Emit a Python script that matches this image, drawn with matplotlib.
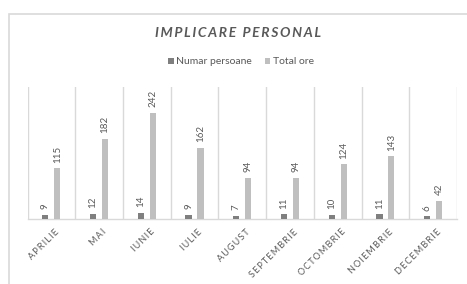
import matplotlib
matplotlib.use("Agg")
import matplotlib.pyplot as plt
from matplotlib.patches import Rectangle
import matplotlib.transforms as mtransforms
import numpy as np

months = ["APRILIE", "MAI", "IUNIE", "IULIE", "AUGUST", "SEPTEMBRIE",
          "OCTOMBRIE", "NOIEMBRIE", "DECEMBRIE"]
numar_persoane = [9, 12, 14, 9, 7, 11, 10, 11, 6]
total_ore = [115, 182, 242, 162, 94, 94, 124, 143, 42]
series_names = ["Numar persoane", "Total ore"]
title = "IMPLICARE PERSONAL"

FAM = ["Lato", "DejaVu Sans"]
TXT = "#595959"
DARK = "#7f7f7f"
LIGHT = "#bfbfbf"
GRID = "#d9d9d9"

def spaced(s, sep="\u200a"):
    return sep.join(s)

W, H = 467, 284
fig = plt.figure(figsize=(W / 100, H / 100), dpi=100)
fig.patch.set_facecolor("white")

# chart frame (extends beyond the image on right/bottom)
fig.patches.append(Rectangle((8.5 / W, -0.1), 1.2, 1.1 - 13.5 / H,
                             transform=fig.transFigure, fill=False,
                             edgecolor=GRID, linewidth=1.2))

left, right, bottom, top = 27.5, 457, 219, 87
ax = fig.add_axes([left / W, (H - bottom) / H, (right - left) / W, (bottom - top) / H])
ax.set_facecolor("none")

x = np.arange(len(months))
bw = 0.13
off = 0.125
b1 = ax.bar(x - off, numar_persoane, bw, color=DARK, label=series_names[0], zorder=3)
b2 = ax.bar(x + off, total_ore, bw, color=LIGHT, label=series_names[1], zorder=3)

for bars, vals in ((b1, numar_persoane), (b2, total_ore)):
    for r, v in zip(bars, vals):
        ax.annotate(str(v), (r.get_x() + r.get_width() / 2, r.get_height()),
                    xytext=(0, 4), textcoords="offset points", rotation=90,
                    ha="center", va="bottom", fontsize=7, color=TXT, family=FAM)

ax.set_xlim(-0.5, len(months) - 0.5)
ax.set_ylim(0, 300)
for b in np.arange(-0.5, len(months), 1.0):
    ax.axvline(b, color=GRID, linewidth=1, zorder=1)

for s in ["top", "right", "left"]:
    ax.spines[s].set_visible(False)
ax.spines["bottom"].set_color(GRID)
ax.spines["bottom"].set_linewidth(1)
ax.set_yticks([])
ax.set_xticks(x)
ax.set_xticklabels([spaced(m, "\u2009") for m in months], rotation=45, ha="right",
                   rotation_mode="anchor", fontsize=6.5, color=TXT, family=FAM)
ax.tick_params(axis="x", length=0, pad=6)
shift = mtransforms.ScaledTranslation(3 / 100, 0, fig.dpi_scale_trans)
for lab in ax.get_xticklabels():
    lab.set_transform(lab.get_transform() + shift)

fig.text(238 / W, 1 - 33 / H, spaced(title, "\u2009"), ha="center", va="center",
         fontsize=10, fontweight="bold", fontstyle="italic", color=TXT, family=FAM)

leg = fig.legend(handles=[b1, b2], labels=series_names, loc="center",
                 bbox_to_anchor=(241 / W, 1 - 62 / H), ncol=2, frameon=False,
                 prop={"family": FAM, "size": 7.5}, handlelength=0.55, handleheight=0.55,
                 handletextpad=0.25, columnspacing=1.2, labelcolor=TXT)

fig.savefig("out.png", dpi=100, facecolor="white")
